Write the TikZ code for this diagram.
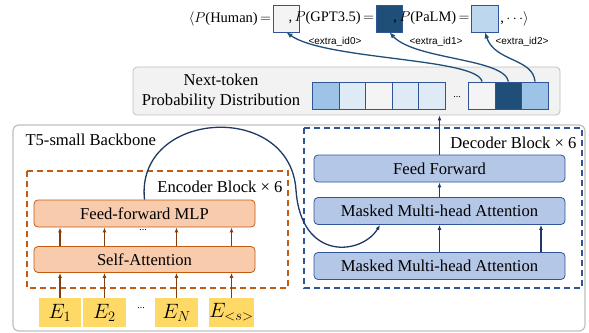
\documentclass[tikz,border=0pt]{standalone}
\usepackage{fontspec}
\setmainfont{Liberation Serif}
\newfontfamily\labelfont{Liberation Sans}
\usetikzlibrary{arrows.meta}

\definecolor{encline}{HTML}{C55A11}
\definecolor{encfill}{HTML}{F8CBAD}
\definecolor{encarrow}{HTML}{843C0C}
\definecolor{decline}{HTML}{2F5597}
\definecolor{decfill}{HTML}{B4C7E7}
\definecolor{navy}{HTML}{1F3864}
\definecolor{darkcell}{HTML}{1F4E79}
\definecolor{midcell}{HTML}{9DC3E6}
\definecolor{lightcell}{HTML}{DEEBF7}
\definecolor{palecell}{HTML}{BDD7EE}
\definecolor{humancell}{HTML}{F4F4F4}
\definecolor{emb}{HTML}{FFD966}
\definecolor{panel}{HTML}{F2F2F2}
\definecolor{panelline}{HTML}{BFBFBF}

\begin{document}
\begin{tikzpicture}[x=1pt,y=-1pt,font=\fontsize{16.6}{20}\selectfont,
  encbox/.style={draw=encline,fill=encfill,rounded corners=4pt,line width=0.8pt,minimum width=221pt,minimum height=27pt,inner sep=0pt},
  decbox/.style={draw=decline,fill=decfill,rounded corners=4pt,line width=0.8pt,minimum width=251pt,minimum height=27pt,inner sep=0pt},
  cell/.style={draw=decline,line width=0.8pt,minimum width=26.5pt,minimum height=27pt,inner sep=0pt},
  embbox/.style={fill=emb,minimum height=29pt,inner sep=0pt,font=\fontsize{20}{22}\selectfont},
  idlabel/.style={font=\labelfont\fontsize{10}{12}\selectfont},
  formula/.style={font=\fontsize{14.5}{16}\selectfont,inner sep=1.5pt},
  encarr/.style={encarrow,line width=1.1pt,-{Latex[length=5pt,width=4pt]}},
  decarr/.style={navy,line width=1.3pt,-{Latex[length=5pt,width=4pt]}},
  outarr/.style={darkcell,line width=1.3pt,-{Latex[length=6pt,width=5pt]}}]
\useasboundingbox (0,0) rectangle (589,332);

\draw[panelline,line width=1.2pt,rounded corners=6pt] (13,125) rectangle (585,331);
\node[anchor=west] (backbone) at (22,140) {T5-small Backbone};

\draw[encline,line width=1.4pt,dash pattern=on 6pt off 4pt] (27,171) rectangle (288,288);
\node[anchor=east] (enclabel) at (286,187) {Encoder Block × 6};
\draw[decline,line width=1.4pt,dash pattern=on 6pt off 4pt] (304,128) rectangle (582,288);
\node[anchor=east] (declabel) at (580,143) {Decoder Block × 6};

\node[draw=panelline,fill=panel,line width=0.8pt,rounded corners=4pt,minimum width=427pt,minimum height=48pt] (nextpanel) at (346.5,91) {};
\node[align=center] (nexttext) at (221,92) {Next-token\\Probability Distribution};
\foreach \i/\c in {0/midcell,1/lightcell,2/humancell,3/lightcell,4/lightcell}
  \node[cell,fill=\c] (c\i) at (326+26.5*\i,95.5) {};
\node[font=\fontsize{10}{10}\selectfont] (cdots) at (457,97) {...};
\node[cell,fill=humancell] (c5) at (482,95.5) {};
\node[cell,fill=darkcell] (c6) at (508.5,95.5) {};
\node[cell,fill=midcell] (c7) at (535,95.5) {};

\node[cell,fill=humancell] (human) at (286.5,18.5) {};
\node[cell,fill=darkcell] (gpt) at (389.5,18.5) {};
\node[cell,fill=palecell] (palm) at (485,18.5) {};
\node[formula,anchor=east] (phuman) at (human.west) {$\langle P$(Human)$\,=$};
\node[formula,anchor=east] (pgpt) at (gpt.west) {,$\,P$(GPT3.5)$\,=$};
\node[formula,anchor=east] (ppalm) at (palm.west) {,$\,P$(PaLM)$\,=$};
\node[formula,anchor=west] (pdots) at (palm.east) {,$\,\cdots\rangle$};
\node[idlabel] (id0) at (335,42) {<extra\_id0>};
\node[idlabel] (id1) at (436,42) {<extra\_id1>};
\node[idlabel] (id2) at (522,42) {<extra\_id2>};
\draw[outarr] (c5.north) .. controls (478,58) and (325,60) .. (human.south);
\draw[outarr] (c6.north) .. controls (504,58) and (415,60) .. (gpt.south);
\draw[outarr] (c7.north) .. controls (533,58) and (495,62) .. (palm.south);

\node[decbox] (ff) at (439.5,168.5) {Feed Forward};
\node[decbox] (upmha) at (439.5,211) {Masked Multi-head Attention};
\node[decbox] (lowmha) at (439.5,266) {Masked Multi-head Attention};
\draw[decarr] (ff.north) -- (ff.north |- nextpanel.south);
\draw[decarr] (upmha.north) -- (ff.south);
\draw[decarr] (lowmha.north) -- (upmha.south);
\draw[decarr] ([xshift=101.5pt]lowmha.north) -- ([xshift=101.5pt]upmha.south);

\node[encbox] (mlp) at (144.5,213.5) {Feed-forward MLP};
\node[encbox,minimum height=26pt] (sa) at (144.5,259.5) {Self-Attention};
\node[font=\fontsize{10}{10}\selectfont] (encdots) at (143,230) {...};
\node[embbox,minimum width=42pt] (e1) at (60,312.5) {$E_1$};
\node[embbox,minimum width=43pt] (e2) at (104.5,312.5) {$E_2$};
\node[font=\fontsize{10}{10}\selectfont] (edots) at (141,308) {...};
\node[embbox,minimum width=43pt] (en) at (176.5,312.5) {$E_N$};
\node[embbox,minimum width=39pt] (es) at (231.5,312.5) {$E_{<s>}$};
\foreach \e in {e1,e2,en,es} {
  \draw[encarr] (\e.north) -- (\e.north |- sa.south);
  \draw[encarr] (\e.north |- sa.north) -- (\e.north |- mlp.south);
}

\draw[decarr,navy] (mlp.north) .. controls (135,110) and (290,100) .. (296,190)
  .. controls (301,262) and (362,255) .. ([xshift=-59.5pt]upmha.south);
\end{tikzpicture}
\end{document}
